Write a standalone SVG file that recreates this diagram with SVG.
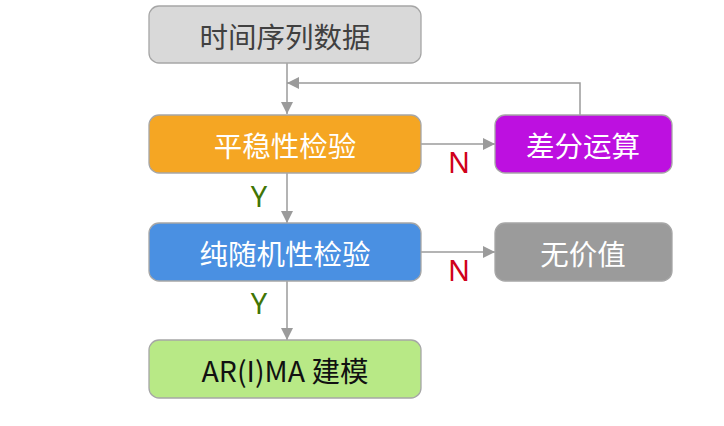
<svg xmlns="http://www.w3.org/2000/svg" width="724" height="426" viewBox="0 0 724 426">
<defs>
<style>
.box{stroke:#a6a6a6;stroke-width:1.3}
.t{font-family:"Noto Sans CJK SC","Noto Sans",sans-serif;font-size:28.5px;text-anchor:middle;dominant-baseline:central}
.w{fill:#ffffff}
.c{fill:none;stroke:#9b9b9b;stroke-width:1.5}
.lbl{font-family:"Noto Sans","Liberation Sans",sans-serif;font-size:29px;text-anchor:middle;dominant-baseline:central}
</style>
<marker id="ah" viewBox="0 0 12 12" refX="12" refY="6" markerWidth="12" markerHeight="12" markerUnits="userSpaceOnUse" orient="auto">
<path d="M0,0 L12,6 L0,12 Z" fill="#9b9b9b"/>
</marker>
</defs>
<rect width="724" height="426" fill="#ffffff"/>
<g id="connectors">
<path class="c" d="M287,63 V114" marker-end="url(#ah)"/>
<path class="c" d="M580,115 V83 H287" marker-end="url(#ah)"/>
<path class="c" d="M421,144 H495" marker-end="url(#ah)"/>
<path class="c" d="M287,173 V223" marker-end="url(#ah)"/>
<path class="c" d="M421,252 H495" marker-end="url(#ah)"/>
<path class="c" d="M287,281 V340" marker-end="url(#ah)"/>
<text class="lbl" x="459" y="161" fill="#d0021b">N</text>
<text class="lbl" x="459" y="269" fill="#d0021b">N</text>
<text class="lbl" x="259" y="195" fill="#417505">Y</text>
<text class="lbl" x="259" y="302" fill="#417505">Y</text>
</g>
<g id="n1">
<rect class="box" x="149" y="6" width="272" height="57" rx="10" fill="#d9d9d9"/>
<text class="t" x="285" y="35" fill="#404040">时间序列数据</text>
</g>
<g id="n2">
<rect class="box" x="149" y="115" width="272" height="58" rx="10" fill="#f5a623"/>
<text class="t w" x="285" y="144">平稳性检验</text>
</g>
<g id="n3">
<rect class="box" x="495" y="115" width="177" height="58" rx="10" fill="#bd10e0"/>
<text class="t w" x="583" y="144">差分运算</text>
</g>
<g id="n4">
<rect class="box" x="149" y="223" width="272" height="58" rx="10" fill="#4a90e2"/>
<text class="t w" x="285" y="252">纯随机性检验</text>
</g>
<g id="n5">
<rect class="box" x="495" y="223" width="177" height="58" rx="10" fill="#9b9b9b"/>
<text class="t w" x="583" y="252">无价值</text>
</g>
<g id="n6">
<rect class="box" x="149" y="340" width="272" height="58" rx="10" fill="#b8e986"/>
<text class="t" x="285" y="369" fill="#111111">AR(I)MA 建模</text>
</g>
</svg>
